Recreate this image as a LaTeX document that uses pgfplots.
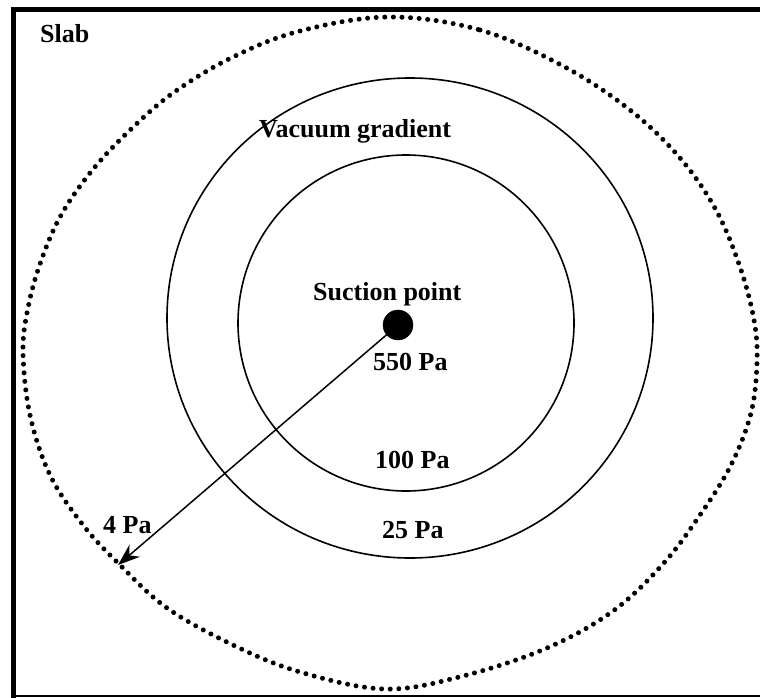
\documentclass[border=0pt]{standalone}
\usepackage{fontspec}
\setmainfont{Liberation Serif}
\usepackage{pgfplots}
\pgfplotsset{compat=1.18}
\usetikzlibrary{arrows.meta}
\tikzset{lab/.style={font=\fontsize{26}{30}\selectfont\bfseries, inner sep=0pt, anchor=base west}}
\begin{document}
\begin{tikzpicture}
\begin{axis}[
  scale only axis, width=760pt, height=698pt,
  xmin=0, xmax=760, ymin=0, ymax=698, y dir=reverse,
  hide axis, clip=false,
]
% frame
\addplot[black, line width=5pt, line cap=butt] coordinates {(13.5,698) (13.5,10) (760,10)};
\addplot[black, line width=2pt, line cap=butt] coordinates {(11,696) (760,696)};
% outer dotted boundary (4 Pa)
\draw[black, line width=5pt, line cap=round, dash pattern=on 0pt off 8.6pt]
 plot[smooth cycle, tension=0.6] coordinates {
(axis cs:389,17) (axis cs:480,30) (axis cs:563,66) (axis cs:630,110) (axis cs:680,158)
(axis cs:716,210) (axis cs:740,267) (axis cs:754,320) (axis cs:757,362)
(axis cs:751,413) (axis cs:731,465) (axis cs:700,515) (axis cs:663,564) (axis cs:613,611)
(axis cs:547,648) (axis cs:463,676) (axis cs:385,689)
(axis cs:300,672) (axis cs:233,645) (axis cs:167,608) (axis cs:120,565) (axis cs:83,525)
(axis cs:50,475) (axis cs:30,415) (axis cs:23,352)
(axis cs:28,308) (axis cs:40,264) (axis cs:60,217) (axis cs:90,173) (axis cs:127,133)
(axis cs:173,93) (axis cs:233,57) (axis cs:300,31)};
% contours
\draw[black, line width=1.6pt] (axis cs:410,318) ellipse [x radius=243, y radius=240];
\draw[black, line width=1.6pt] (axis cs:406,323) ellipse [x radius=168, y radius=168];
% arrow
\addplot[black, line width=1.5pt, -{Stealth[length=22pt,width=16pt]}] coordinates {(398,325) (118,565)};
% suction point
\addplot[only marks, mark=*, mark size=15pt, black] coordinates {(398,325)};
% labels
\node[lab] at (axis cs:40,43) {Slab};
\node[lab] at (axis cs:259,138) {Vacuum gradient};
\node[lab] at (axis cs:313,300) {Suction point};
\node[lab] at (axis cs:373,370) {550 Pa};
\node[lab] at (axis cs:375,468) {100 Pa};
\node[lab] at (axis cs:382,538) {25 Pa};
\node[lab] at (axis cs:103,533) {4 Pa};
\end{axis}
\pgfresetboundingbox
\path[use as bounding box] (current axis.south west) rectangle (current axis.north east);
\end{tikzpicture}
\end{document}
